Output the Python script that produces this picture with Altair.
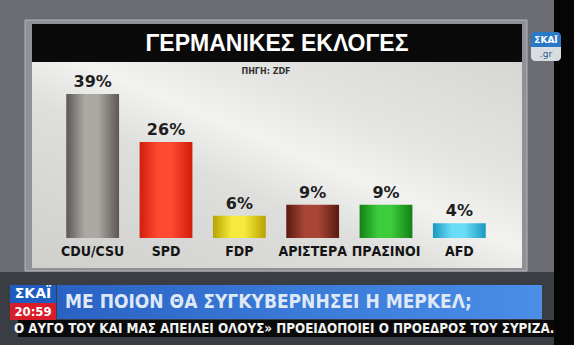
import altair as alt
import pandas as pd

# ---- chart data ----
parties = ["CDU/CSU", "SPD", "FDP", "ΑΡΙΣΤΕΡΑ", "ΠΡΑΣΙΝΟΙ", "AFD"]
values = [39, 26, 6, 9, 9, 4]
value_labels = ["39%", "26%", "6%", "9%", "9%", "4%"]
edge_colors = ["#5c5753", "#d01e0c", "#b8a200", "#5a1a10", "#138013", "#1a98c0"]
light_colors = ["#aca8a4", "#ff4a32", "#f6ea3c", "#a84636", "#3ccc3c", "#6adcf6"]

# ---- texts ----
title_text = "ΓΕΡΜΑΝΙΚΕΣ ΕΚΛΟΓΕΣ"
source_text = "ΠΗΓΗ: ZDF"
headline_text = "ΜΕ ΠΟΙΟΝ ΘΑ ΣΥΓΚΥΒΕΡΝΗΣΕΙ Η ΜΕΡΚΕΛ;"
ticker_text = "Ο ΑΥΓΟ ΤΟΥ ΚΑΙ ΜΑΣ ΑΠΕΙΛΕΙ ΟΛΟΥΣ» ΠΡΟΕΙΔΟΠΟΙΕΙ Ο ΠΡΟΕΔΡΟΣ ΤΟΥ ΣΥΡΙΖΑ."
channel_text = "ΣΚΑΪ"
clock_text = "20:59"
site_text = ".gr"

df = pd.DataFrame({"party": parties, "value": values, "label": value_labels})
one = pd.DataFrame({"k": [0]})


def grad(stops, x1=0, y1=0, x2=1, y2=0):
    return alt.LinearGradient(
        gradient="linear",
        stops=[alt.GradientStop(color=c, offset=o) for o, c in stops],
        x1=x1, y1=y1, x2=x2, y2=y2,
    )


def box(x, x2, y, y2, fill, **kw):
    return alt.Chart(one).mark_rect(color=fill, **kw).encode(
        x=alt.value(x), x2=alt.value(x2), y=alt.value(y), y2=alt.value(y2)
    )


def txt(text, x, y, **kw):
    return alt.Chart(one).mark_text(text=text, **kw).encode(
        x=alt.value(x), y=alt.value(y)
    )


X = alt.X(
    "party:N",
    sort=parties,
    axis=None,
    scale=alt.Scale(domain=parties, range=[56, 496], paddingInner=0.28, paddingOuter=0.14),
)
Y = alt.Y("value:Q", axis=None, scale=alt.Scale(domain=[0, 39], range=[238, 94]))

layers = []
# background decoration
layers.append(box(554, 574, 0, 345, "#050505"))
layers.append(box(0, 554, 272, 345, "#3a3d43"))
layers.append(box(25, 527, 20, 271, "#8f9196", stroke="#b4b6ba", strokeWidth=1))
layers.append(box(32, 522, 24, 62, "#0b0a0a"))
layers.append(
    box(32, 522, 62, 268,
        grad([(0, "#cfcfcd"), (0.4, "#dededc"), (0.55, "#f2f2f0"), (0.7, "#e4e4e2"), (1, "#d6d6d4")],
             x1=0, y1=1, x2=1, y2=0))
)
layers.append(txt(title_text, 277, 44, font="Liberation Sans", fontWeight="bold", fontSize=23, color="#ffffff"))
layers.append(txt(source_text, 266, 72, font="DejaVu Sans", fontWeight="bold", fontSize=8, color="#333333"))

# bars
for p, e, l in zip(parties, edge_colors, light_colors):
    layers.append(
        alt.Chart(df)
        .transform_filter(alt.datum.party == p)
        .mark_bar(color=grad([(0, e), (0.35, l), (0.6, l), (1, e)]))
        .encode(x=X, y=Y)
    )

layers.append(
    alt.Chart(df).mark_text(baseline="bottom", dy=-4, font="DejaVu Sans", fontWeight="bold",
                            fontSize=16, color="#1e1e1e")
    .encode(x=X, y=Y, text="label:N")
)
layers.append(
    alt.Chart(df).mark_text(baseline="middle", font="DejaVu Sans Condensed", fontWeight="bold",
                            fontSize=14, color="#141414")
    .encode(x=X, y=alt.value(252), text="party:N")
)

# site logo
layers.append(box(531, 561, 32, 47, "#2a78c8", cornerRadiusTopLeft=4, cornerRadiusTopRight=4))
layers.append(box(531, 561, 47, 61, "#d8dde2", cornerRadiusBottomLeft=4, cornerRadiusBottomRight=4))
layers.append(txt(channel_text, 546, 40, font="DejaVu Sans", fontWeight="bold", fontSize=9, color="#ffffff"))
layers.append(txt(site_text, 546, 54, font="DejaVu Sans", fontSize=9, color="#2a5a90"))

# news banners
layers.append(box(57, 542, 285, 319, grad([(0, "#2a62c4"), (0.5, "#3a7ad8"), (1, "#4a8ee8")])))
layers.append(txt(headline_text, 65, 302, align="left", font="DejaVu Sans Condensed", fontWeight="bold",
                  fontSize=19, color="#dfe8f6"))
layers.append(box(10, 56, 285, 303, "#1e5cc0"))
layers.append(box(10, 56, 303, 320, "#d81c2a"))
layers.append(txt(channel_text, 33, 294, font="DejaVu Sans", fontWeight="bold", fontSize=14, color="#ffffff"))
layers.append(txt(clock_text, 33, 312, font="DejaVu Sans Condensed", fontWeight="bold", fontSize=13, color="#ffffff"))
layers.append(box(18, 554, 320, 337, "#0a0a0a"))
layers.append(txt(ticker_text, 14, 329, align="left", font="DejaVu Sans Condensed", fontWeight="bold",
                  fontSize=13.3, color="#f2f2f2"))

chart = (
    alt.layer(*layers)
    .properties(width=574, height=345, autosize=alt.AutoSizeParams(type="none"), padding=0,
                background="#6b6d72")
    .configure_view(strokeWidth=0)
)

chart.save("out.html", embed_options={"renderer": "svg", "actions": False})
